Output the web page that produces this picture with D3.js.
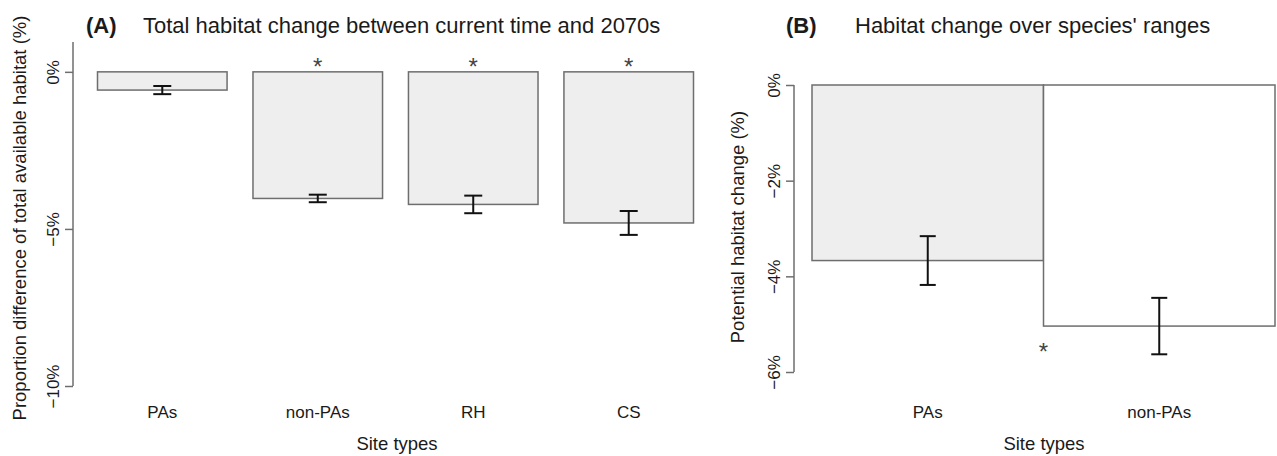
<!DOCTYPE html>
<html>
<head>
<meta charset="utf-8">
<script src="https://cdn.jsdelivr.net/npm/d3@7"></script>
<style>
  body { margin: 0; background: #fff; }
  svg text { font-family: "Liberation Sans", Arial, sans-serif; fill: #1a1a1a; }
</style>
</head>
<body>
<svg width="1277" height="456"></svg>
<script>
// panel A data: total habitat change (%)
var catsA = ["PAs", "non-PAs", "RH", "CS"];
var valsA = [-0.58, -4.03, -4.22, -4.81];
var seA   = [0.13, 0.12, 0.28, 0.38];
var sigA  = [false, true, true, true];

// panel B data: change over species' ranges (%)
var catsB = ["PAs", "non-PAs"];
var valsB = [-3.67, -5.04];
var seB   = [0.51, 0.59];
var fillB = ["#eeeeee", "#ffffff"];

var ticksA = [0, -5, -10];
var ticksB = [0, -2, -4, -6];

var svg = d3.select("svg");
var fmt = function(d) { return d3.format("d")(d) + "%"; };

// --- scales
var xA = d3.scaleBand().domain(catsA).range([97.5, 693.5]).paddingInner(1 / 6).paddingOuter(0);
var yA = d3.scaleLinear().domain([-10, 0.95]).range([386, 42]);

var xB = d3.scaleBand().domain(catsB).range([812, 1275]).paddingInner(0).paddingOuter(0);
var yB = d3.scaleLinear().domain([-6, 0]).range([372, 85]);

function drawPanel(opts) {
  var g = svg.append("g");
  var x = opts.x, y = opts.y;

  // bars
  g.selectAll("rect.bar")
    .data(opts.cats)
    .enter().append("rect")
    .attr("class", "bar")
    .attr("x", function(d) { return x(d); })
    .attr("width", x.bandwidth())
    .attr("y", y(0))
    .attr("height", function(d, i) { return y(opts.vals[i]) - y(0); })
    .attr("fill", function(d, i) { return opts.fill ? opts.fill[i] : "#eeeeee"; })
    .attr("stroke", "#6e6e6e")
    .attr("stroke-width", 1.5);

  // error bars
  var eb = g.selectAll("g.err")
    .data(opts.cats)
    .enter().append("g")
    .attr("class", "err")
    .attr("stroke", "#111")
    .attr("stroke-width", 2);
  var cx = function(d) { return x(d) + x.bandwidth() / 2; };
  eb.append("line")
    .attr("x1", cx).attr("x2", cx)
    .attr("y1", function(d, i) { return y(opts.vals[i] + opts.se[i]); })
    .attr("y2", function(d, i) { return y(opts.vals[i] - opts.se[i]); });
  [1, -1].forEach(function(s) {
    eb.append("line")
      .attr("x1", function(d) { return cx(d) - opts.cap; })
      .attr("x2", function(d) { return cx(d) + opts.cap; })
      .attr("y1", function(d, i) { return y(opts.vals[i] + s * opts.se[i]); })
      .attr("y2", function(d, i) { return y(opts.vals[i] + s * opts.se[i]); });
  });

  // y axis
  var ax = g.append("g")
    .attr("transform", "translate(" + opts.axisX + ",0)")
    .call(d3.axisLeft(y).tickValues(opts.ticks).tickFormat(fmt).tickSize(8).tickSizeOuter(0));
  ax.select(".domain").attr("stroke", "#6e6e6e").attr("stroke-width", 1.5)
    .attr("d", "M0," + y(opts.axisTop) + "V" + y(opts.axisBottom));
  ax.selectAll(".tick line").attr("stroke", "#6e6e6e").attr("stroke-width", 1.5);
  ax.selectAll(".tick text")
    .attr("x", null).attr("dy", null)
    .attr("transform", "translate(-20,0) rotate(-90)")
    .attr("text-anchor", "middle")
    .attr("dy", "0.35em")
    .style("font-size", "17px")
    .style("fill", "#1a1a1a")
    .style("font-family", "'Liberation Sans', Arial, sans-serif");

  // category labels
  g.selectAll("text.cat")
    .data(opts.cats)
    .enter().append("text")
    .attr("class", "cat")
    .attr("x", cx)
    .attr("y", 418)
    .attr("text-anchor", "middle")
    .style("font-size", "17px")
    .text(function(d) { return d; });

  // axis titles
  g.append("text")
    .attr("x", opts.xTitleX).attr("y", 450)
    .attr("text-anchor", "middle")
    .style("font-size", "18.5px")
    .text("Site types");
  g.append("text")
    .attr("transform", "translate(" + opts.yTitleX + "," + opts.yTitleY + ") rotate(-90)")
    .attr("text-anchor", "middle")
    .attr("dy", "0.35em")
    .style("font-size", "18.5px")
    .text(opts.yTitle);

  // panel title
  g.append("text")
    .attr("x", opts.tagX).attr("y", 33)
    .style("font-size", "22px").style("font-weight", "bold")
    .text(opts.tag);
  g.append("text")
    .attr("x", opts.titleX).attr("y", 33)
    .style("font-size", "22px")
    .text(opts.title);

  return g;
}

var gA = drawPanel({
  x: xA, y: yA, cats: catsA, vals: valsA, se: seA, cap: 9,
  ticks: ticksA, axisX: 73, axisTop: 0.95, axisBottom: -10,
  xTitleX: 397, yTitleX: 20, yTitleY: 218,
  yTitle: "Proportion difference of total available habitat (%)",
  tag: "(A)", tagX: 86, title: "Total habitat change between current time and 2070s", titleX: 143
});

var gB = drawPanel({
  x: xB, y: yB, cats: catsB, vals: valsB, se: seB, cap: 8, fill: fillB,
  ticks: ticksB, axisX: 794, axisTop: 0, axisBottom: -6,
  xTitleX: 1044, yTitleX: 738, yTitleY: 227,
  yTitle: "Potential habitat change (%)",
  tag: "(B)", tagX: 786, title: "Habitat change over species' ranges", titleX: 855
});

// significance asterisks
gA.selectAll("text.sig")
  .data(catsA.filter(function(d, i) { return sigA[i]; }))
  .enter().append("text")
  .attr("class", "sig")
  .attr("x", function(d) { return xA(d) + xA.bandwidth() / 2; })
  .attr("y", yA(0) + 3)
  .attr("text-anchor", "middle")
  .style("font-size", "24px")
  .style("fill", "#444")
  .text("*");

gB.append("text")
  .attr("x", xB("non-PAs"))
  .attr("y", yB(-5.5) + 12)
  .attr("text-anchor", "middle")
  .style("font-size", "24px")
  .style("fill", "#444")
  .text("*");
</script>
</body>
</html>
